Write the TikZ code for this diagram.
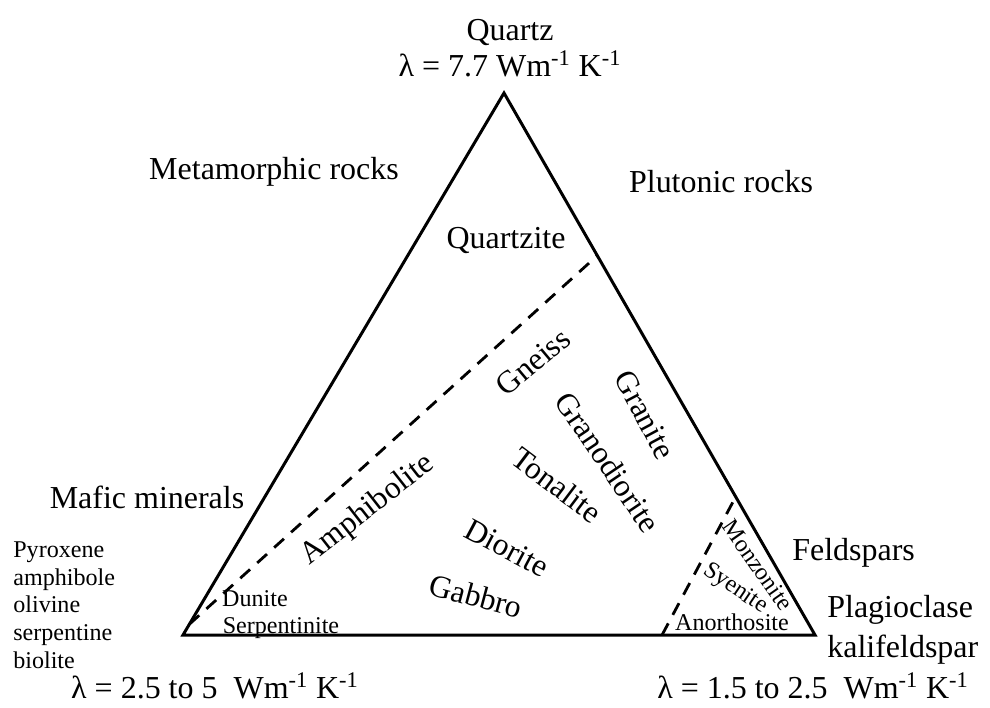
\documentclass[tikz,border=0pt]{standalone}
\usepackage{fontspec}
\setmainfont{Liberation Serif}
\usetikzlibrary{calc}

\begin{document}
\begin{tikzpicture}[
  x=0.02cm, y=-0.02cm,
  every node/.style={inner sep=0pt},
  rocklbl/.style={font=\fontsize{18.2}{20.4}\selectfont},
  fieldlbl/.style={font=\fontsize{18}{20}\selectfont},
  minlbl/.style={font=\fontsize{13.7}{15.9}\selectfont},
  sideline/.style={line width=1.7pt, line join=miter},
  bounddash/.style={line width=1.6pt, dash pattern=on 7.5pt off 5.5pt}
]

% ---- Frame ----
\useasboundingbox (0,0) rectangle (990,707);

% ---- Triangle corners ----
\coordinate (qz) at (504,93);
\coordinate (mf) at (183,635);
\coordinate (fs) at (815,635);

\draw[sideline] (qz) -- (fs) -- (mf) -- cycle;

% ---- Field boundaries ----
\coordinate (metaA) at ($(mf)!0.02!(qz)$);
\coordinate (metaB) at ($(qz)!0.30!(fs)$);
\coordinate (feldA) at ($(mf)!0.758!(fs)$);
\coordinate (feldB) at ($(qz)!0.745!(fs)$);
\draw[bounddash] (metaA) -- (metaB);
\draw[bounddash] (feldA) -- (feldB);

% ---- Corner labels ----
\node[rocklbl, align=center, anchor=north] (quartz) at (510,19)
  {Quartz\\λ = 7.7 Wm\textsuperscript{-1} K\textsuperscript{-1}};
\node[rocklbl] (metam) at (274,172) {Metamorphic rocks};
\node[rocklbl] (pluto) at (721,182) {Plutonic rocks};
\node[rocklbl] (mafic) at (147,497) {Mafic minerals};
\node[minlbl, align=left, anchor=north west] (mafmin) at (13,541)
  {Pyroxene\\amphibole\\olivine\\serpentine\\biolite};
\node[rocklbl] (lamMf) at (215,686) {λ = 2.5 to 5~~Wm\textsuperscript{-1} K\textsuperscript{-1}};
\node[rocklbl, anchor=west] (feld) at (792,553) {Feldspars};
\node[rocklbl, font=\fontsize{18.2}{22.7}\selectfont, align=left, anchor=north west] (plag) at (827,595)
  {Plagioclase\\kalifeldspar};
\node[rocklbl] (lamFs) at (813,686) {λ = 1.5 to 2.5~~Wm\textsuperscript{-1} K\textsuperscript{-1}};

% ---- Field labels ----
\node[rocklbl] (qtzite) at (506,240) {Quartzite};
\node[fieldlbl, rotate=40] (gneiss) at (533,362) {Gneiss};
\node[fieldlbl, rotate=38] (amphib) at (368,510) {Amphibolite};
\node[fieldlbl, rotate=-62] (granite) at (645,415) {Granite};
\node[fieldlbl, rotate=-56] (grdior) at (608,462) {Granodiorite};
\node[fieldlbl, rotate=-37] (tonal) at (557,485) {Tonalite};
\node[fieldlbl, rotate=-28] (dior) at (507,548) {Diorite};
\node[fieldlbl, rotate=-15] (gabbro) at (476,596) {Gabbro};
\node[minlbl] (dunite) at (255,599) {Dunite};
\node[minlbl] (serp) at (281,628) {Serpentinite};
\node[minlbl, rotate=-55] (monz) at (758,565) {Monzonite};
\node[minlbl, rotate=-34] (syen) at (735,589) {Syenite};
\node[minlbl] (anorth) at (732,622) {Anorthosite};

\end{tikzpicture}
\end{document}
